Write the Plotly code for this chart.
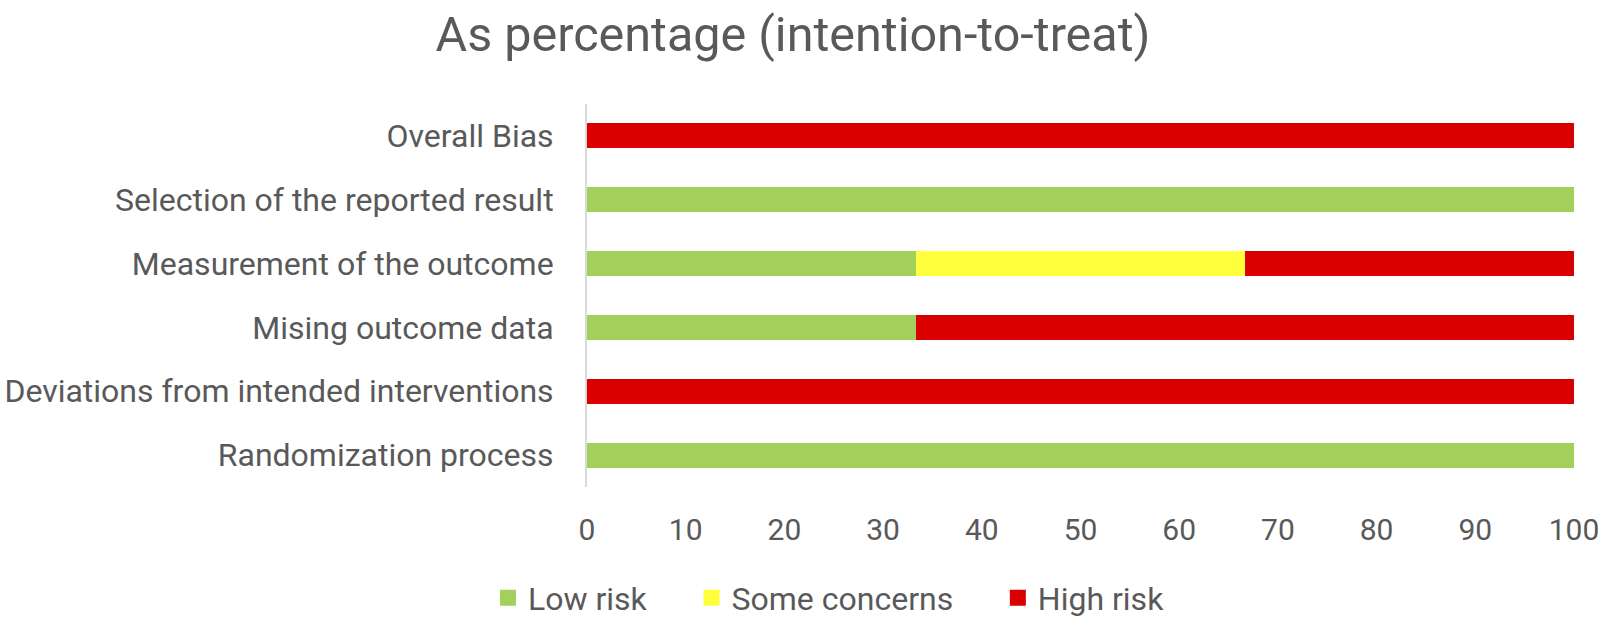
import plotly.graph_objects as go

categories = ["Randomization process", "Deviations from intended interventions",
              "Mising outcome data", "Measurement of the outcome",
              "Selection of the reported result", "Overall Bias"]
low_risk = [100, 0, 33.33, 33.33, 100, 0]
some_concerns = [0, 0, 0, 33.33, 0, 0]
high_risk = [0, 100, 66.67, 33.34, 0, 100]
x_ticks = [0, 10, 20, 30, 40, 50, 60, 70, 80, 90, 100]
series = [("Low risk", low_risk, "#A3CF5B"),
          ("Some concerns", some_concerns, "#FFFF3B"),
          ("High risk", high_risk, "#DA0000")]

FONT = "Roboto"
TXT = "#595959"
PAD = "\u00a0" * 5

fig = go.Figure()
for name, vals, col in series:
    fig.add_trace(go.Bar(y=categories, x=vals, name=name, orientation="h",
                         showlegend=False, legendgroup=name,
                         marker=dict(color=col, line=dict(width=0))))
for i, (name, vals, col) in enumerate(series):
    label = name + (PAD if i < len(series) - 1 else "")
    fig.add_trace(go.Scatter(x=[None], y=[None], mode="markers", name=label,
                             legendgroup=name,
                             marker=dict(symbol="square", size=18, color=col)))

fig.update_layout(
    barmode="stack", bargap=0.61,
    width=1606, height=622,
    paper_bgcolor="white", plot_bgcolor="white",
    margin=dict(l=587, r=32, t=104, b=135),
    title=dict(text="As percentage (intention-to-treat)", x=793/1606, xanchor="center",
               y=1-34/622, yanchor="middle",
               font=dict(family=FONT, size=48.5, color=TXT)),
    font=dict(family=FONT, color=TXT),
    legend=dict(orientation="h", xref="container", yref="container",
                x=829/1606, xanchor="center", y=1-598/622, yanchor="middle",
                font=dict(size=32, color=TXT), traceorder="normal",
                itemwidth=30),
    xaxis=dict(range=[0, 100], tickvals=x_ticks, showgrid=False, zeroline=False,
               showline=False, tickfont=dict(size=30, color=TXT), ticks="",
               ticklabelstandoff=22, automargin=False),
    yaxis=dict(showgrid=False, zeroline=False, showline=True, linecolor="#D9D9D9",
               linewidth=2, ticks="", tickfont=dict(size=32, color=TXT),
               ticklabelstandoff=25, automargin=False,
               categoryorder="array", categoryarray=categories),
)
fig.write_html("out.html", config={"displayModeBar": False},
               post_script="document.body.style.margin='0';document.body.style.overflow='hidden';")
